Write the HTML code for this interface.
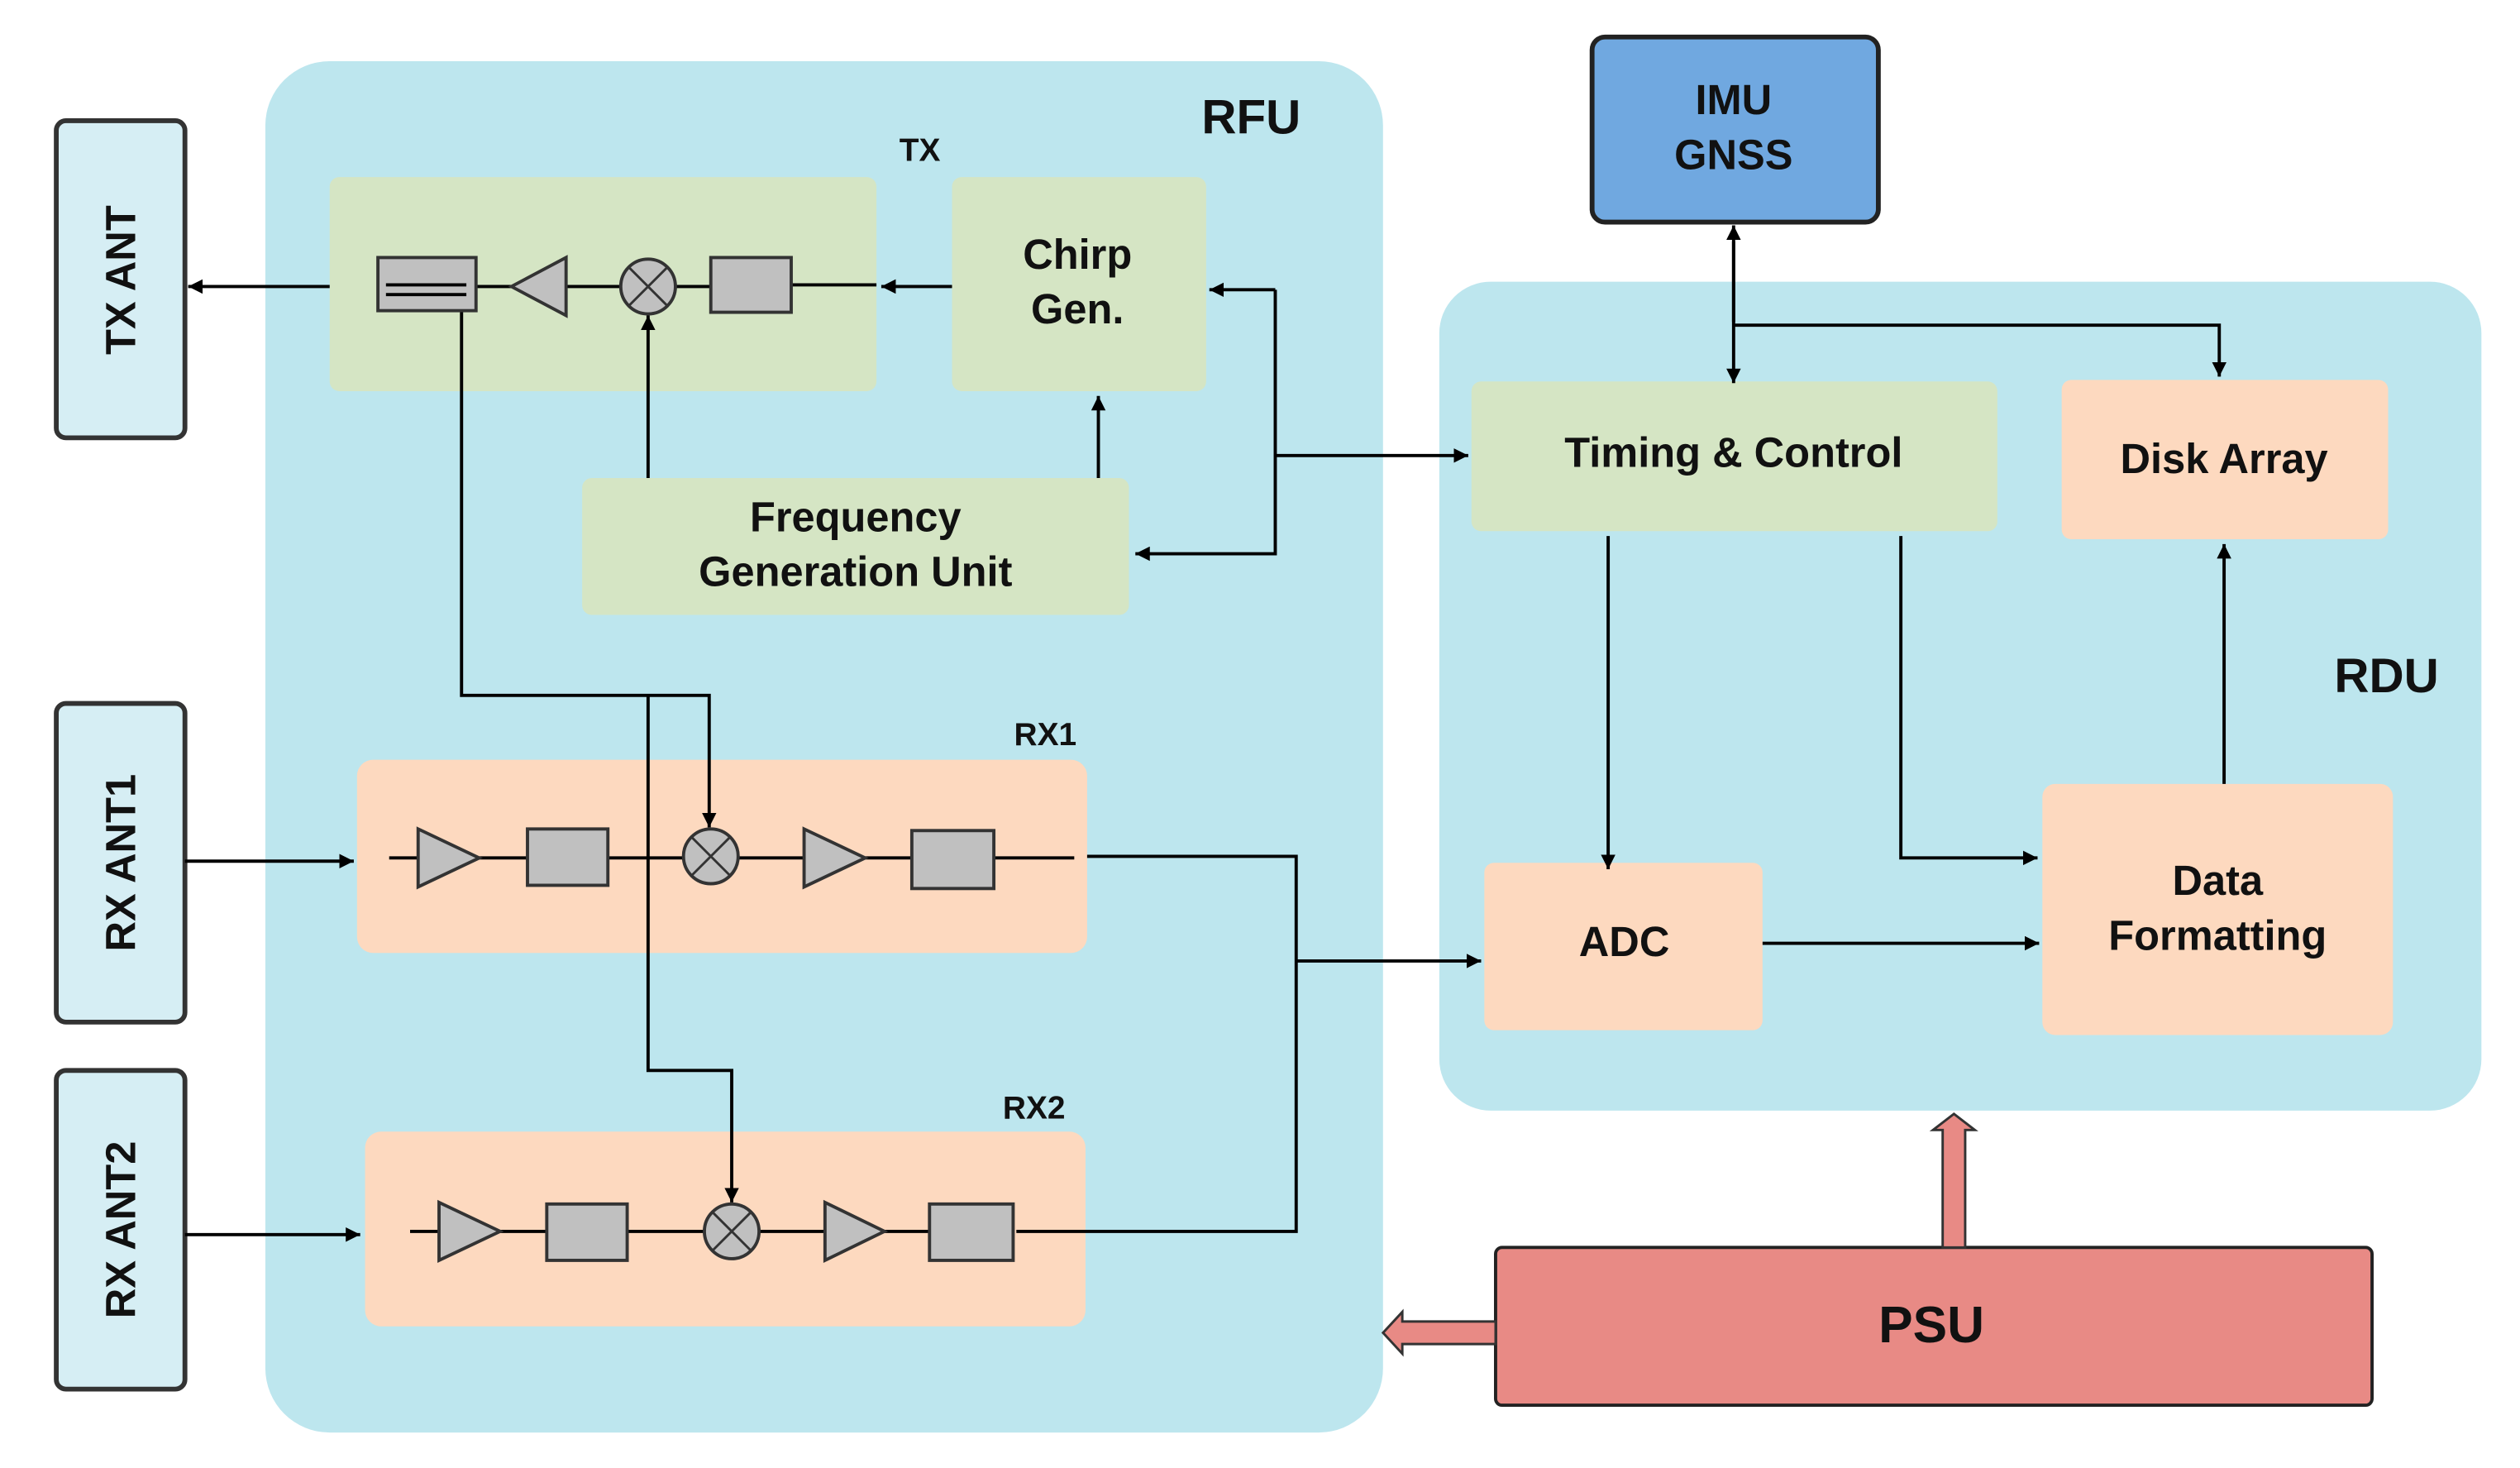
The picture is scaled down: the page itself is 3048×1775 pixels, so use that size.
<!DOCTYPE html>
<html><head><meta charset="utf-8"><style>
html,body{margin:0;padding:0;background:#fff;}
svg{display:block;}
text{font-family:"Liberation Sans",Arial,sans-serif;font-weight:bold;fill:#111;}
</style></head><body>
<svg width="3048" height="1775" viewBox="0 0 1567 912" preserveAspectRatio="none" xmlns="http://www.w3.org/2000/svg">
<defs>
<marker id="a" viewBox="0 0 10 10" refX="10" refY="5" markerWidth="9" markerHeight="9" markerUnits="userSpaceOnUse" orient="auto"><path d="M0,0 L10,5 L0,10 z" fill="#000"/></marker>
</defs>
<rect x="165" y="38" width="695" height="852" rx="40" fill="#bde6ee"/>
<rect x="895" y="175" width="648" height="515" rx="32" fill="#bde6ee"/>
<text x="778" y="83" font-size="30" text-anchor="middle">RFU</text>
<text x="1484" y="430" font-size="30" text-anchor="middle">RDU</text>
<g fill="#d6eef4" stroke="#333" stroke-width="3">
<rect x="35" y="75" width="80" height="197" rx="6"/>
<rect x="35" y="437" width="80" height="198" rx="6"/>
<rect x="35" y="665" width="80" height="198" rx="6"/>
</g>
<text font-size="26" text-anchor="middle" transform="translate(84,174) rotate(-90)">TX ANT</text>
<text font-size="26" text-anchor="middle" transform="translate(84,536) rotate(-90)">RX ANT1</text>
<text font-size="26" text-anchor="middle" transform="translate(84,764) rotate(-90)">RX ANT2</text>
<g fill="#d5e5c4">
<rect x="205" y="110" width="340" height="133" rx="6"/>
<rect x="592" y="110" width="158" height="133" rx="6"/>
<rect x="362" y="297" width="340" height="85" rx="6"/>
<rect x="915" y="237" width="327" height="93" rx="6"/>
</g>
<g fill="#fdd9bf">
<rect x="222" y="472" width="454" height="120" rx="10"/>
<rect x="227" y="703" width="448" height="121" rx="10"/>
<rect x="1282" y="236" width="203" height="99" rx="6"/>
<rect x="923" y="536" width="173" height="104" rx="6"/>
<rect x="1270" y="487" width="218" height="156" rx="8"/>
</g>
<text x="572" y="100" font-size="20" text-anchor="middle">TX</text>
<text x="650" y="463" font-size="20" text-anchor="middle">RX1</text>
<text x="643" y="695" font-size="20" text-anchor="middle">RX2</text>
<text x="670" y="167" font-size="26" text-anchor="middle">Chirp</text>
<text x="670" y="201" font-size="26" text-anchor="middle">Gen.</text>
<text x="532" y="330" font-size="26" text-anchor="middle">Frequency</text>
<text x="532" y="364" font-size="26" text-anchor="middle">Generation Unit</text>
<text x="1078" y="290" font-size="26" text-anchor="middle">Timing &amp; Control</text>
<text x="1383" y="294" font-size="26" text-anchor="middle">Disk Array</text>
<text x="1010" y="594" font-size="26" text-anchor="middle">ADC</text>
<text x="1379" y="556" font-size="26" text-anchor="middle">Data</text>
<text x="1379" y="590" font-size="26" text-anchor="middle">Formatting</text>
<rect x="990" y="23" width="178" height="115" rx="8" fill="#70a8e0" stroke="#222" stroke-width="3"/>
<text x="1078" y="71" font-size="26" text-anchor="middle">IMU</text>
<text x="1078" y="105" font-size="26" text-anchor="middle">GNSS</text>
<rect x="930" y="775" width="545" height="98" rx="4" fill="#e88a85" stroke="#222" stroke-width="2"/>
<text x="1201" y="834" font-size="32" text-anchor="middle">PSU</text>
<path d="M1208,775 L1208,702 L1202,702 L1215,692 L1228,702 L1222,702 L1222,775 z" fill="#e88a85" stroke="#333" stroke-width="1.5"/>
<path d="M930,821 L872,821 L872,815 L860,828 L872,841 L872,835 L930,835 z" fill="#e88a85" stroke="#333" stroke-width="1.5"/>
<g stroke="#000" stroke-width="2" fill="none">
<line x1="205" y1="178" x2="117" y2="178" marker-end="url(#a)"/>
<line x1="592" y1="178" x2="548" y2="178" marker-end="url(#a)"/>
<line x1="296" y1="178" x2="318" y2="178"/>
<line x1="352" y1="178" x2="386" y2="178"/>
<line x1="420" y1="178" x2="442" y2="178"/>
<line x1="492" y1="177" x2="545" y2="177"/>
<line x1="403" y1="297" x2="403" y2="196" marker-end="url(#a)"/>
<line x1="683" y1="297" x2="683" y2="246" marker-end="url(#a)"/>
<line x1="793" y1="180" x2="752" y2="180" marker-end="url(#a)"/>
<polyline points="793,180 793,344 706,344" marker-end="url(#a)"/>
<line x1="793" y1="283" x2="913" y2="283" marker-end="url(#a)"/>
<polyline points="287,193 287,432 441,432 441,514" marker-end="url(#a)"/>
<polyline points="403,432 403,665 455,665 455,747" marker-end="url(#a)"/>
<line x1="115" y1="535" x2="220" y2="535" marker-end="url(#a)"/>
<line x1="115" y1="767" x2="224" y2="767" marker-end="url(#a)"/>
<line x1="242" y1="533" x2="260" y2="533"/>
<line x1="298" y1="533" x2="328" y2="533"/>
<line x1="378" y1="533" x2="425" y2="533"/>
<line x1="459" y1="533" x2="500" y2="533"/>
<line x1="538" y1="533" x2="567" y2="533"/>
<line x1="618" y1="533" x2="668" y2="533"/>
<polyline points="676,532 806,532 806,765 632,765"/>
<line x1="806" y1="597" x2="921" y2="597" marker-end="url(#a)"/>
<line x1="255" y1="765" x2="273" y2="765"/>
<line x1="311" y1="765" x2="340" y2="765"/>
<line x1="390" y1="765" x2="438" y2="765"/>
<line x1="472" y1="765" x2="513" y2="765"/>
<line x1="550" y1="765" x2="578" y2="765"/>
<line x1="1078" y1="150" x2="1078" y2="238" marker-end="url(#a)"/>
<line x1="1078" y1="200" x2="1078" y2="140" marker-end="url(#a)"/>
<polyline points="1078,202 1380,202 1380,234" marker-end="url(#a)"/>
<line x1="1000" y1="333" x2="1000" y2="540" marker-end="url(#a)"/>
<polyline points="1182,333 1182,533 1267,533" marker-end="url(#a)"/>
<line x1="1096" y1="586" x2="1268" y2="586" marker-end="url(#a)"/>
<line x1="1383" y1="487" x2="1383" y2="338" marker-end="url(#a)"/>
</g>
<g fill="#c0c0c0" stroke="#333" stroke-width="2">
<rect x="235" y="160" width="61" height="33"/>
<polygon points="318,178 352,160 352,196"/>
<rect x="442" y="160" width="50" height="34"/>
<rect x="328" y="515" width="50" height="35"/>
<polygon points="260,515 298,533 260,551"/>
<polygon points="500,515 538,533 500,551"/>
<rect x="567" y="516" width="51" height="36"/>
<polygon points="273,747 311,765 273,783"/>
<rect x="340" y="748" width="50" height="35"/>
<polygon points="513,747 550,765 513,783"/>
<rect x="578" y="748" width="52" height="35"/>
</g>
<g stroke="#000" stroke-width="2" fill="none">
<line x1="240" y1="177" x2="290" y2="177"/>
<line x1="240" y1="183" x2="290" y2="183"/>
</g>
<g fill="#c0c0c0" stroke="#333" stroke-width="2">
<ellipse cx="403" cy="178" rx="17" ry="17"/>
<ellipse cx="442" cy="532" rx="17" ry="17"/>
<ellipse cx="455" cy="765" rx="17" ry="17"/>
</g>
<g stroke="#333" stroke-width="1.5">
<path d="M391,166 L415,190 M415,166 L391,190"/>
<path d="M430,520 L454,544 M454,520 L430,544"/>
<path d="M443,753 L467,777 M467,753 L443,777"/>
</g>
</svg>
</body></html>
